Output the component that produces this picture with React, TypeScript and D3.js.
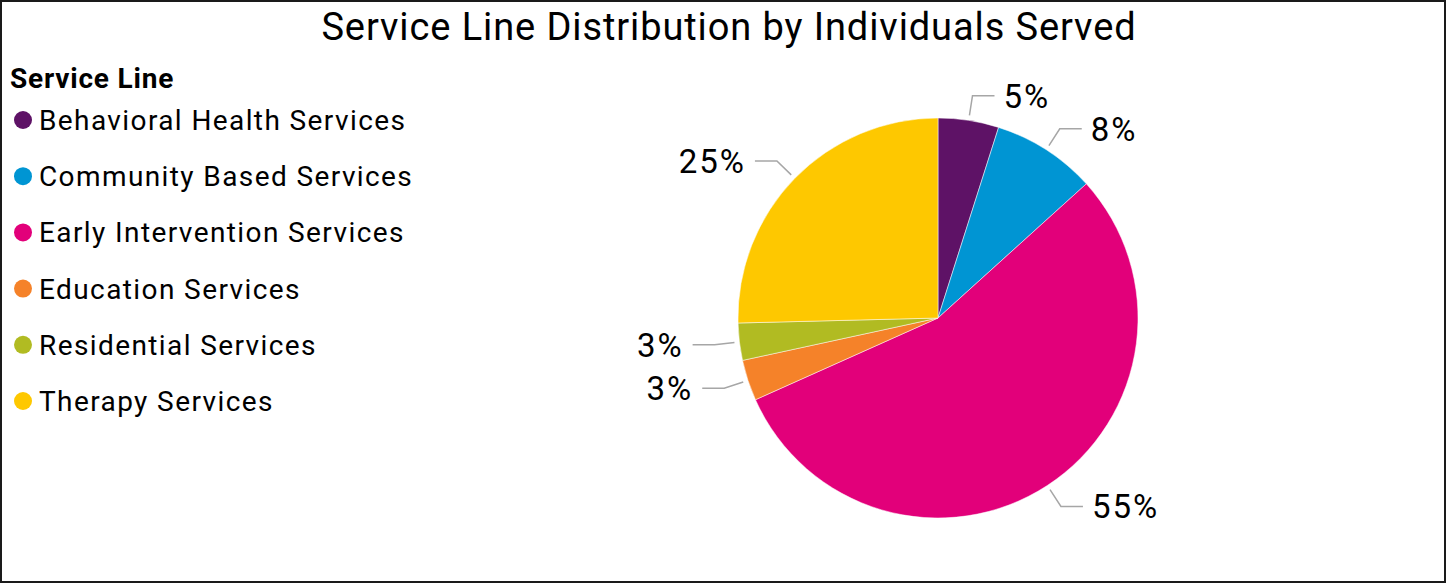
import * as d3 from "d3";

const categories = [
  "Behavioral Health Services",
  "Community Based Services",
  "Early Intervention Services",
  "Education Services",
  "Residential Services",
  "Therapy Services",
];
const values = [4.9, 8.4, 55.0, 3.3, 3.0, 25.4];
const labels = ["5%", "8%", "55%", "3%", "3%", "25%"];
const colors = ["#5E1266", "#0095D3", "#E2007A", "#F58229", "#B1BB22", "#FEC800"];

const W = 1446;
const H = 583;
const cx = 938;
const cy = 318;
const R = 200;
const font = "Roboto, 'DejaVu Sans', sans-serif";

export default function App() {
  const pie = d3
    .pie<number>()
    .sort(null)
    .value((d) => d);
  const arcs = pie(values);
  const arc = d3.arc<d3.PieArcDatum<number>>().innerRadius(0).outerRadius(R);

  return (
    <svg
      width={W}
      height={H}
      style={{ position: "absolute", left: 0, top: 0, background: "#fff" }}
      fontFamily={font}
    >
      <rect x={1} y={1} width={W - 2} height={H - 2} fill="#fff" stroke="#1a1a1a" strokeWidth={2} />
      <text x={729} y={40} textAnchor="middle" fontSize={38} letterSpacing={0.9} fill="#000">
        Service Line Distribution by Individuals Served
      </text>

      <text x={10} y={88} fontSize={28} fontWeight="bold" letterSpacing={0.8} fill="#000">
        Service Line
      </text>
      {categories.map((c, i) => {
        const y = 120 + i * 56.2;
        return (
          <g key={c}>
            <circle cx={23} cy={y} r={9} fill={colors[i]} />
            <text x={39} y={y} dy="0.36em" fontSize={28} letterSpacing={1.4} fill="#000">
              {c}
            </text>
          </g>
        );
      })}

      <g transform={`translate(${cx},${cy})`}>
        {arcs.map((a, i) => (
          <path key={i} d={arc(a) || ""} fill={colors[i]} stroke="#fff" strokeWidth={0.5} />
        ))}
        {arcs.map((a, i) => {
          const mid = (a.startAngle + a.endAngle) / 2;
          const s = Math.sin(mid);
          const c = -Math.cos(mid);
          const x0 = s * (R + 5);
          const y0 = c * (R + 5);
          const x1 = s * (R + 25);
          const y1 = c * (R + 25);
          const dir = s >= 0 ? 1 : -1;
          const x2 = x1 + dir * 22;
          return (
            <g key={"l" + i}>
              <polyline
                points={`${x0},${y0} ${x1},${y1} ${x2},${y1}`}
                fill="none"
                stroke="#A6A6A6"
                strokeWidth={1.5}
              />
              <text
                x={x2 + dir * 9}
                y={y1}
                dy="0.36em"
                textAnchor={dir > 0 ? "start" : "end"}
                fontSize={33}
                letterSpacing={2}
                fill="#000"
              >
                {labels[i]}
              </text>
            </g>
          );
        })}
      </g>
    </svg>
  );
}
